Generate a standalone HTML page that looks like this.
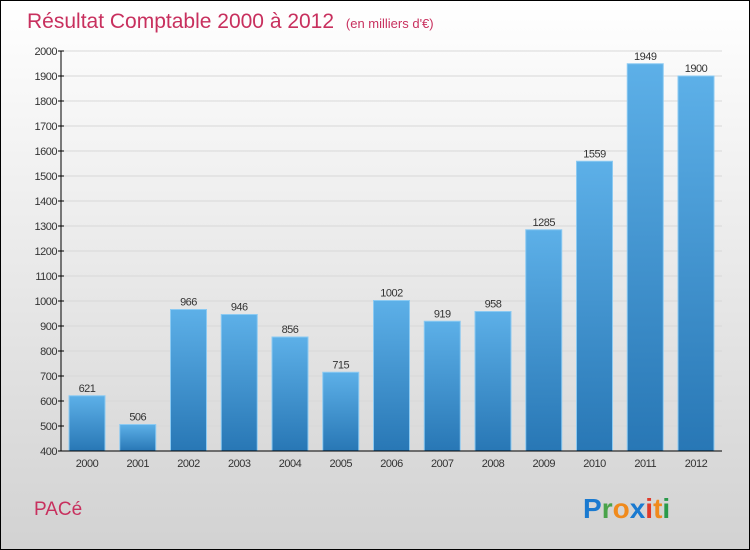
<!DOCTYPE html>
<html><head><meta charset="utf-8"><style>
body{margin:0}
#c{width:750px;height:550px;position:relative;box-sizing:border-box;border:1px solid #000;background:linear-gradient(#ffffff,#d2d2d2);font-family:"Liberation Sans",sans-serif;overflow:hidden}
</style></head><body>
<div id="c">
<svg id="s" width="748" height="548" style="position:absolute;left:0;top:0">
<defs><linearGradient id="g" x1="0" y1="0" x2="0" y2="1"><stop offset="0" stop-color="#5db0e8"/><stop offset="1" stop-color="#2877b5"/></linearGradient></defs>
<text x="26" y="27" font-size="21" fill="#c8305e">Résultat Comptable 2000 à 2012 <tspan font-size="13" dx="6">(en milliers d'€)</tspan></text>
<text x="33" y="514" font-size="19" fill="#c8305e">PACé</text>
<g font-size="28" font-weight="bold" font-family="Liberation Sans, sans-serif">
<text x="582" y="517"><tspan fill="#1a7ad0">P</tspan><tspan fill="#4aa34a">r</tspan><tspan fill="#f08a1c">o</tspan><tspan fill="#1a7ad0">x</tspan><tspan fill="#e03a2a">i</tspan><tspan fill="#f08a1c">t</tspan><tspan fill="#2a9a4a">i</tspan></text>
</g>
<g id="grid"></g><g id="bars"></g><g id="axes"></g>
</svg>
</div>
<script>
const years=["2000","2001","2002","2003","2004","2005","2006","2007","2008","2009","2010","2011","2012"];
const values=[621,506,966,946,856,715,1002,919,958,1285,1559,1949,1900];
const yTicks=[400,500,600,700,800,900,1000,1100,1200,1300,1400,1500,1600,1700,1800,1900,2000];
const NS="http://www.w3.org/2000/svg";
const y0=450,y1=50,vmin=400,vmax=2000,xl=60,xr=721;
const yS=v=>y0-(v-vmin)/(vmax-vmin)*(y0-y1);
const step=50.75,bw=36,x0=68;
const xS=i=>x0+i*step;
function mk(t,a,p){const e=document.createElementNS(NS,t);for(const k in a)e.setAttribute(k,a[k]);p.appendChild(e);return e;}
const G=document.getElementById('grid'),B=document.getElementById('bars'),A=document.getElementById('axes');
yTicks.forEach(v=>{
 const l=mk('line',{x1:xl,x2:xr,y1:yS(v),y2:yS(v),stroke:'#d8d8d8','stroke-width':1},G);
 
 
 const t=mk('line',{x1:xl-3,x2:xl+3,y1:yS(v),y2:yS(v),stroke:'#000'},A);
 
 
 const tx=mk('text',{x:xl-4,y:yS(v)+4,'font-size':11,'text-anchor':'end',fill:'#333','letter-spacing':'-0.5'},A);
 tx.textContent=v;
 
 
});
values.forEach((v,i)=>{
 const r=mk('rect',{x:xS(i),y:yS(v),width:bw,height:y0-yS(v),fill:'url(#g)',stroke:'#8ccaf2','stroke-width':1},B);
 
 
 const t=mk('text',{x:xS(i)+bw/2,y:yS(v)-4,'font-size':11,'text-anchor':'middle',fill:'#333','letter-spacing':'-0.5'},B);
 t.textContent=v;
 
 
 const xt=mk('text',{x:xS(i)+bw/2,y:y0+16,'font-size':11,'text-anchor':'middle',fill:'#333','letter-spacing':'-0.5'},A);
 xt.textContent=years[i];
 
 
});
const ya=mk('line',{x1:xl,x2:xl,y1:y1,y2:y0,stroke:'#000'},A);


const xa=mk('line',{x1:xl,x2:xr,y1:y0,y2:y0,stroke:'#000'},A);


</script>
</body></html>
